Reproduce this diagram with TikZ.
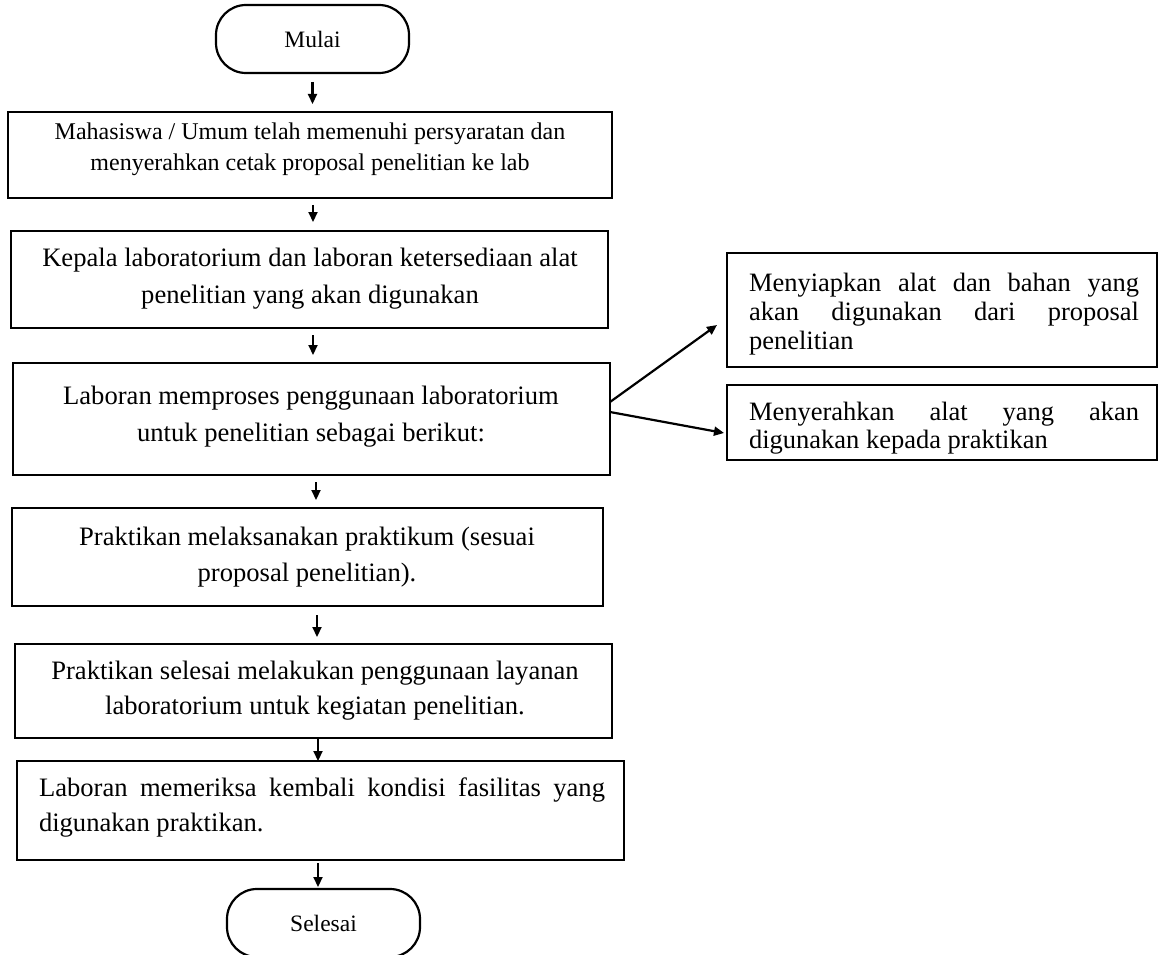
\documentclass[tikz,border=0pt]{standalone}
\usepackage{fontspec}
\setmainfont{Liberation Serif}
\usetikzlibrary{arrows.meta}
\newcommand{\fbig}{\fontsize{26.6}{37}\selectfont}
\newcommand{\fmid}{\fontsize{24}{31}\selectfont}
\newcommand{\fsml}{\fontsize{23.5}{28}\selectfont}
\begin{document}
\begin{tikzpicture}[x=1pt,y=-1pt,
  box/.style={draw, line width=2.8pt, inner sep=0pt, outer sep=0pt},
  term/.style={draw, line width=2.2pt, rounded corners=30pt, inner sep=0pt, outer sep=0pt,
    minimum width=193pt, minimum height=68pt, font=\fsml},
  arr/.style={line width=2.2pt, -{Triangle[length=10pt,width=9pt]}},
  txt/.style={inner sep=0pt, outer sep=0pt, anchor=north, align=center},
  jtxt/.style={inner sep=0pt, outer sep=0pt, anchor=north west, align=left},
]
\useasboundingbox (0,0) rectangle (1160,955);
\clip (0,0) rectangle (1160,955);

% terminals
\node[term] (mulai) at (312.5,39) {Mulai};
\node[term] (selesai) at (323.5,923) {Selesai};

% main boxes
\node[box, minimum width=604pt, minimum height=86pt] (b2) at (310,155) {};
\node[box, minimum width=597pt, minimum height=97pt] (b3) at (309.5,279.5) {};
\node[box, minimum width=597pt, minimum height=112pt] (b4) at (311.5,419) {};
\node[box, minimum width=591pt, minimum height=98pt] (b5) at (307.5,557) {};
\node[box, minimum width=597pt, minimum height=94pt] (b6) at (313.5,691) {};
\node[box, minimum width=607pt, minimum height=99pt] (b7) at (320.5,810.5) {};

% side boxes
\node[box, minimum width=430pt, minimum height=114pt] (bA) at (942,310) {};
\node[box, minimum width=430pt, minimum height=75pt] (bB) at (942,422.5) {};

% texts
\node[txt, font=\fmid] (t2) at (310,118)
  {\strut Mahasiswa / Umum telah memenuhi persyaratan dan\\\strut menyerahkan cetak proposal penelitian ke lab};
\node[txt, font=\fbig] (t3) at (310,241)
  {\strut Kepala laboratorium dan laboran ketersediaan alat\\\strut penelitian yang akan digunakan};
\node[txt, font=\fbig] (t4) at (311,379)
  {\strut Laboran memproses penggunaan laboratorium\\\strut untuk penelitian sebagai berikut:};
\node[txt, font=\fontsize{26.6}{36}\selectfont] (t5) at (307,520)
  {\strut Praktikan melaksanakan praktikum (sesuai\\\strut proposal penelitian).};
\node[txt, font=\fontsize{26.6}{35}\selectfont] (t6) at (315,654.5)
  {\strut Praktikan selesai melakukan penggunaan layanan\\\strut laboratorium untuk kegiatan penelitian.};
\node[jtxt, font=\fontsize{26.6}{35}\selectfont] (t7) at (39,771.5)
  {\strut\makebox[566pt][s]{Laboran memeriksa kembali kondisi fasilitas yang}\\\strut digunakan praktikan.};
\node[jtxt, font=\fontsize{26.5}{29}\selectfont] (tA) at (749,271)
  {\strut\makebox[390pt][s]{Menyiapkan alat dan bahan yang}\\\strut\makebox[390pt][s]{akan digunakan dari proposal}\\\strut penelitian};
\node[jtxt, font=\fontsize{26.5}{28}\selectfont] (tB) at (749,401)
  {\strut\makebox[390pt][s]{Menyerahkan alat yang akan}\\\strut digunakan kepada praktikan};

% vertical arrows
\draw[arr, shorten <=9pt, shorten >=8pt] (mulai.south) -- (mulai.south |- b2.north);
\draw[arr, shorten <=7pt, shorten >=9pt] ([xshift=3pt]b2.south) -- ([xshift=3pt]b2.south |- b3.north);
\draw[arr, shorten <=7pt, shorten >=8pt] ([xshift=3.5pt]b3.south) -- ([xshift=3.5pt]b3.south |- b4.north);
\draw[arr, shorten <=7pt, shorten >=8pt] ([xshift=4.5pt]b4.south) -- ([xshift=4.5pt]b4.south |- b5.north);
\draw[arr, shorten <=9pt, shorten >=7pt] ([xshift=9.5pt]b5.south) -- ([xshift=9.5pt]b5.south |- b6.north);
\draw[arr] ([xshift=4.5pt]b6.south) -- ([xshift=4.5pt]b6.south |- b7.north);
\draw[arr, shorten <=3pt, shorten >=2pt] ([xshift=-2.5pt]b7.south) -- ([xshift=-2.5pt]b7.south |- selesai.north);

% branch arrows
\draw[arr] ([yshift=17pt]b4.east) -- ([xshift=-10pt,yshift=-15pt]bA.west);
\draw[arr] ([yshift=7pt]b4.east) -- ([xshift=-3pt,yshift=-10.5pt]bB.west);
\end{tikzpicture}
\end{document}
